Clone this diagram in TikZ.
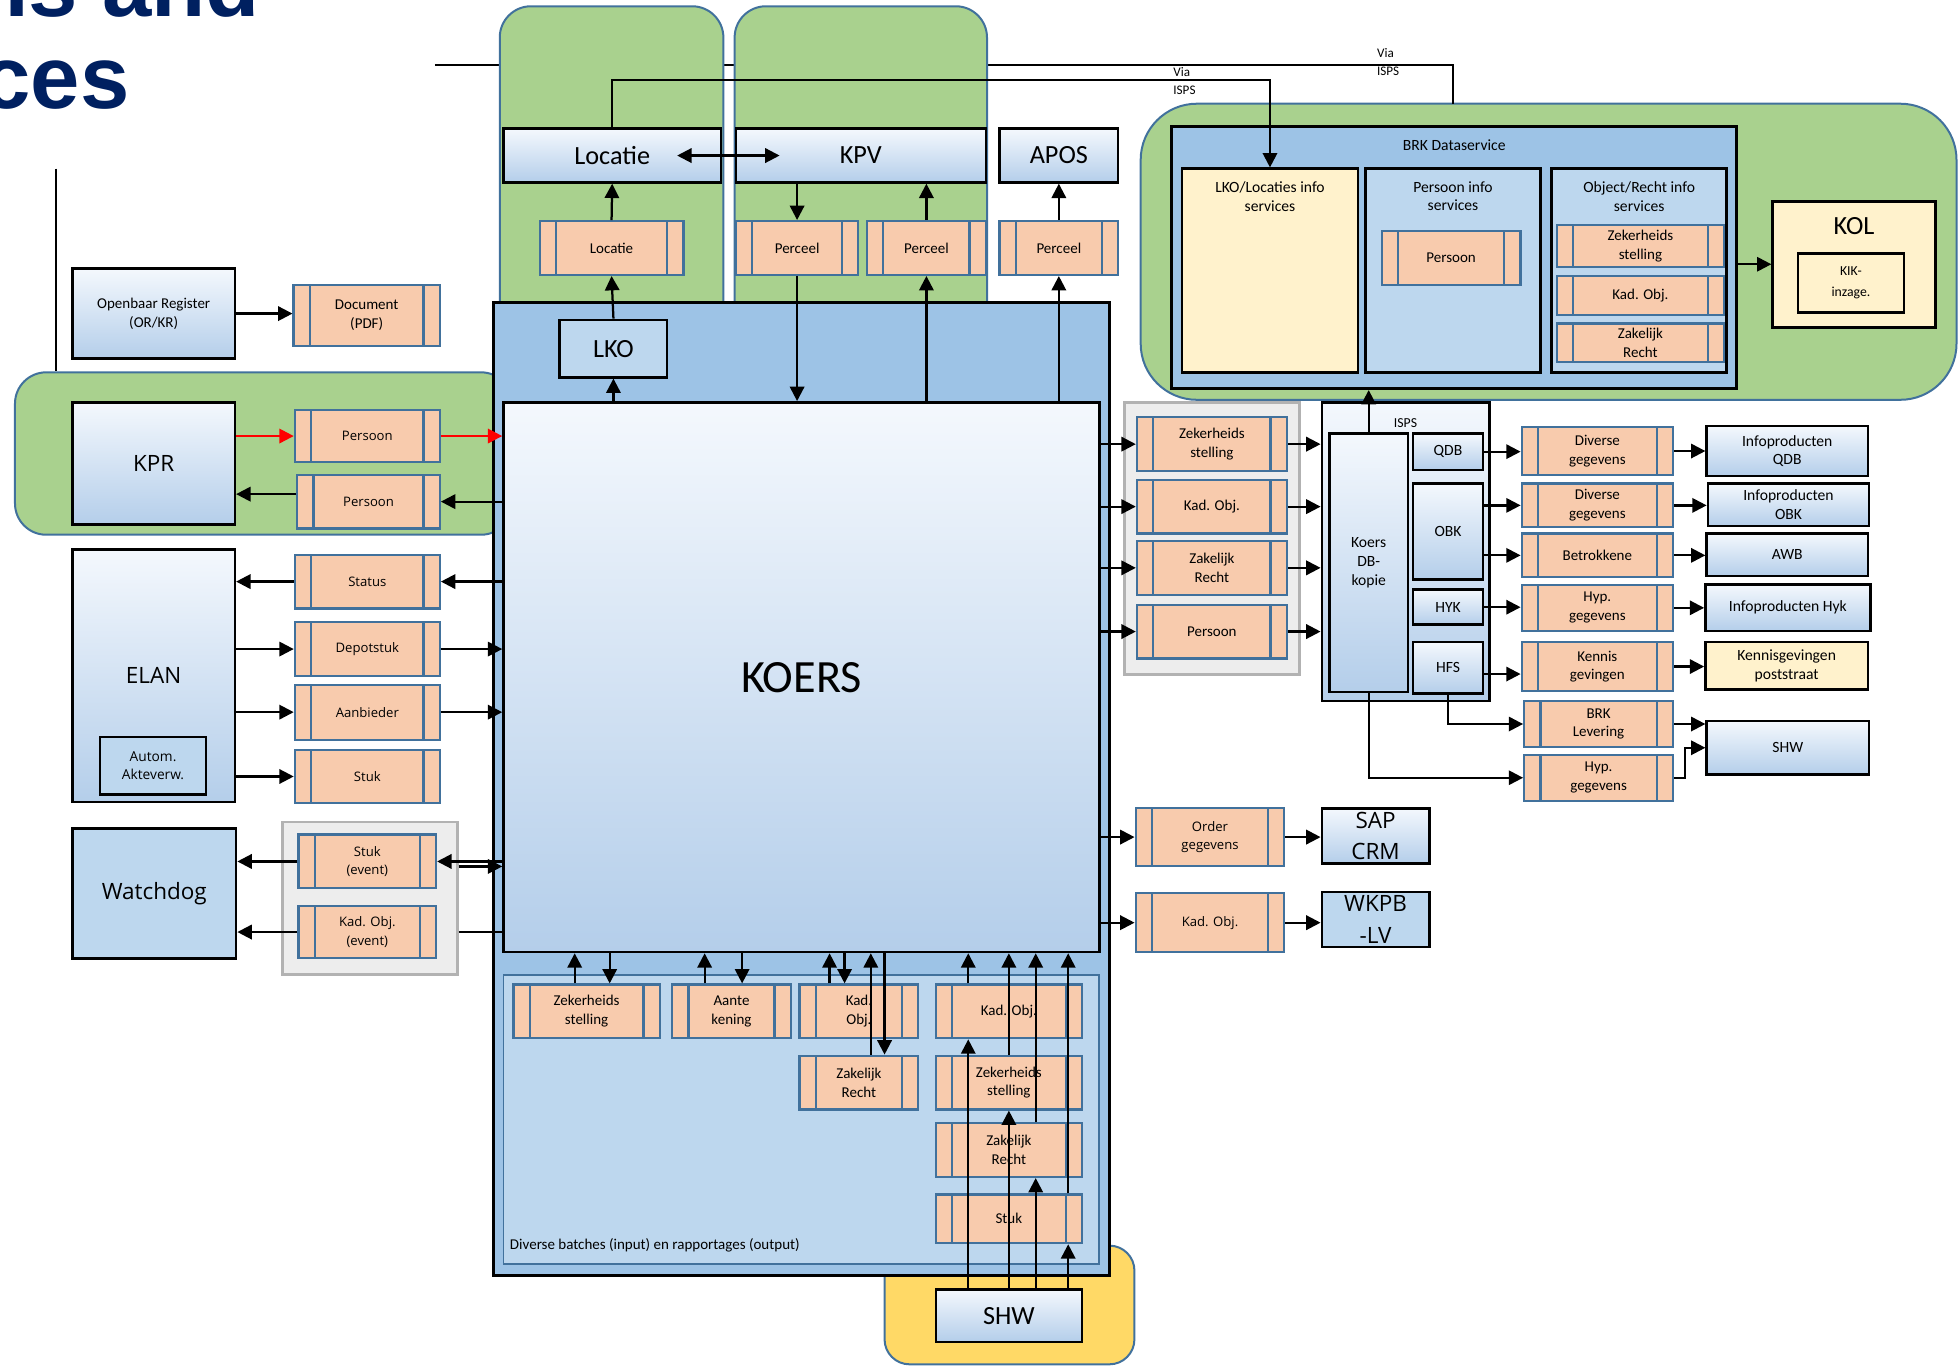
\documentclass[tikz,border=0pt]{standalone}
\usepackage{fontspec}
\setmainfont{Carlito}
\newfontfamily\segfont{Open Sans}
\newfontfamily\headfont{Liberation Sans}
\usetikzlibrary{arrows.meta, positioning}
\definecolor{grpgreen}{HTML}{A9D18E}
\definecolor{edgeblue}{HTML}{41719C}
\definecolor{procpink}{HTML}{F8CBAD}
\definecolor{koersblue}{HTML}{9DC3E6}
\definecolor{paleblue}{HTML}{BDD7EE}
\definecolor{gradtop}{HTML}{F4F8FD}
\definecolor{gradbot}{HTML}{B4CEEA}
\definecolor{cream}{HTML}{FFF2CC}
\definecolor{sunyellow}{HTML}{FFD966}
\definecolor{grpgray}{HTML}{EDEDED}
\definecolor{grayedge}{HTML}{B2B2B2}
\definecolor{titlenavy}{HTML}{002060}

\begin{document}
\begin{tikzpicture}[
    x=1pt, y=-1pt,
    wh/.style 2 args={minimum width=#1pt, minimum height=#2pt},
    grp/.style={draw=edgeblue, line width=1.6pt, fill=grpgreen, rounded corners=25pt, inner sep=0pt},
    grayframe/.style={draw=grayedge, line width=2pt, fill=grpgray, inner sep=0pt},
    sysbox/.style={draw=black, line width=2pt, top color=gradtop, bottom color=gradbot,
                   inner sep=0pt, align=center},
    flatbox/.style={draw=black, line width=2pt, fill=#1, inner sep=0pt, align=center},
    flatbox/.default=paleblue,
    proc/.style={draw=edgeblue, line width=1.8pt, fill=procpink, inner sep=0pt, align=center,
                 font=\fontsize{12}{15}\selectfont,
                 path picture={\draw[edgeblue, line width=1.8pt]
                   ([xshift=13pt]path picture bounding box.north west) -- ([xshift=13pt]path picture bounding box.south west)
                   ([xshift=-13pt]path picture bounding box.north east) -- ([xshift=-13pt]path picture bounding box.south east);}},
    lproc/.style={proc, font=\segfont\fontsize{10.5}{15}\selectfont},
    big/.style={font=\fontsize{21}{25}\selectfont},
    lbig/.style={font=\segfont\fontsize{18}{25}\selectfont},
    small/.style={font=\fontsize{12.5}{15}\selectfont},
    note/.style={font=\fontsize{10.5}{14}\selectfont, inner sep=0pt, align=left},
    titletxt/.style={font=\headfont\bfseries\fontsize{71}{74}\selectfont, text=titlenavy,
                     inner sep=0pt, anchor=base west},
    arr/.style={-{Triangle[length=11.5pt,width=11.5pt]}, line width=1.8pt},
    dblarr/.style={{Triangle[length=11.5pt,width=11.5pt]}-{Triangle[length=11.5pt,width=11.5pt]}, line width=1.8pt},
    wire/.style={line width=1.8pt}
]
    \useasboundingbox (0,0) rectangle (1568,1096);

    % slide remnants
    \node[titletxt] (title1) at (-21,13) {ns and};
    \node[titletxt] (title2) at (-15,87) {ces};

    % groups
    \node[grp, rounded corners=45pt, wh={653}{237}] (brkgrp) at (1239.5,201.5) {};
    \coordinate (viatop) at (348,52);
    \coordinate (viaend) at (1163,83);
    \draw[wire] (viatop) -| (viaend);
    \node[note, anchor=west] (via1) at (1102,49.5) {Via\\ISPS};
    \node[grp, wh={179}{295}] (locgrp) at (489.5,152.5) {};
    \node[grp, wh={202}{295}] (kpvgrp) at (689,152.5) {};
    \node[grp, wh={398}{130}] (kprgrp) at (211,363) {};
    \coordinate (ruletop) at (45,135);
    \draw[wire] (ruletop) -- (ruletop |- kprgrp.north);
    \node[grp, rounded corners=20pt, fill=sunyellow, wh={200}{95}] (shwgrp) at (808,1044.5) {};
    \node[grayframe, wh={140}{122}] (lgray) at (296,719) {};
    \node[grayframe, wh={140}{218}] (rgray) at (970,431) {};

    % KOERS
    \node[flatbox=koersblue, line width=2.2pt, wh={493}{779}] (koersbg) at (641.5,631.5) {};
    \node[flatbox, wh={86}{46}, big] (lko) at (491,279) {LKO};
    \node[sysbox, wh={477}{440}, font=\fontsize{37}{40}\selectfont] (koers) at (641.5,542) {KOERS};
    \node[draw=edgeblue, line width=1.6pt, fill=paleblue, wh={477}{232}] (batch) at (641.5,896) {};
    \node[anchor=west, inner sep=0pt, font=\fontsize{12}{14}\selectfont] (batchlbl) at (408,997)
        {Diverse batches (input) en rapportages (output)};

    % top row
    \node[sysbox, wh={174}{43}, big] (locH) at (490,124.5) {Locatie};
    \node[sysbox, wh={200}{43}, big] (kpv) at (689,124.5) {KPV};
    \node[sysbox, wh={95}{43}, big] (apos) at (847.5,124.5) {APOS};
    \node[proc, wh={115}{43}] (locP) at (489.5,198.5) {Locatie};
    \node[proc, wh={98}{43}] (perc1) at (638,198.5) {Perceel};
    \node[proc, wh={95}{43}] (perc2) at (741.5,198.5) {Perceel};
    \node[proc, wh={95}{43}] (perc3) at (847.5,198.5) {Perceel};

    % left side
    \node[sysbox, wh={130}{72}, font=\fontsize{12}{15}\selectfont] (openreg) at (123,251) {Openbaar Register\\(OR/KR)};
    \node[proc, wh={117}{49}] (doc) at (293.5,252.5) {Document\\(PDF)};
    \node[sysbox, wh={130}{98}, lbig] (kpr) at (123,371) {KPR};
    \node[lproc, wh={116}{42}] (persA) at (294,349) {Persoon};
    \node[lproc, wh={114}{43}] (persB) at (295,401.5) {Persoon};
    \node[sysbox, wh={130}{202}, lbig] (elan) at (123,541) {ELAN};
    \node[flatbox, wh={85}{46}, font=\segfont\fontsize{11}{14}\selectfont] (autom) at (122.5,613) {Autom.\\Akteverw.};
    \node[lproc, wh={116}{43}] (status) at (294,465.5) {Status};
    \node[lproc, wh={116}{43}] (depot) at (294,519.5) {Depotstuk};
    \node[lproc, wh={116}{44}] (aanb) at (294,570) {Aanbieder};
    \node[lproc, wh={116}{43}] (stuk) at (294,621.5) {Stuk};
    \node[flatbox, wh={131}{104}, lbig] (watch) at (123.5,715) {Watchdog};
    \node[lproc, wh={110}{43}] (stukev) at (294,689.5) {Stuk\\(event)};
    \node[lproc, wh={110}{42}] (kadev) at (294,746) {Kad. Obj.\\(event)};

    % batches
    \node[proc, wh={117}{43}] (bZek) at (469.5,809.5) {Zekerheids\\stelling};
    \node[proc, wh={95}{43}] (bAan) at (585.5,809.5) {Aante\\kening};
    \node[proc, wh={95}{43}] (bKad) at (687.5,809.5) {Kad.\\Obj.};
    \node[proc, wh={95}{43}] (bZak) at (687.5,866.5) {Zakelijk\\Recht};
    \node[proc, wh={117}{43}] (rKad) at (807.5,809.5) {Kad. Obj.};
    \node[proc, wh={117}{43}] (rZek) at (807.5,866.5) {Zekerheids\\stelling};
    \node[proc, wh={117}{43}] (rZak) at (807.5,920.5) {Zakelijk\\Recht};
    \node[proc, wh={117}{39}] (rStuk) at (807.5,975.5) {Stuk};
    \node[sysbox, wh={117}{42}, big] (shw) at (807.5,1053) {SHW};

    % right of KOERS
    \node[proc, wh={120}{43}] (gZek) at (970,355.5) {Zekerheids\\stelling};
    \node[proc, wh={120}{43}] (gKad) at (970,405.5) {Kad. Obj.};
    \node[proc, wh={120}{43}] (gZak) at (970,454.5) {Zakelijk\\Recht};
    \node[proc, wh={120}{43}] (gPers) at (970,505.5) {Persoon};
    \node[sysbox, wh={134}{239}] (dbouter) at (1125,441.5) {};
    \node[note, font=\fontsize{11}{13}\selectfont] (ispslbl) at (1125,339) {ISPS};
    \node[sysbox, wh={63}{207}, small] (dbkopie) at (1095.5,450.5) {Koers\\DB-\\kopie};
    \node[sysbox, wh={56}{29}, small] (qdb) at (1159,361.5) {QDB};
    \node[sysbox, wh={56}{77}, small] (obk) at (1159,425.5) {OBK};
    \node[sysbox, wh={56}{28}, small] (hyk) at (1159,486) {HYK};
    \node[sysbox, wh={56}{41}, small] (hfs) at (1159,534.5) {HFS};

    \node[proc, wh={121}{38}] (dg1) at (1278.5,361) {Diverse\\gegevens};
    \node[proc, wh={121}{35}] (dg2) at (1278.5,404.5) {Diverse\\gegevens};
    \node[proc, wh={121}{35}] (betr) at (1278.5,444.5) {Betrokkene};
    \node[proc, wh={121}{37}] (hyp1) at (1278.5,486.5) {Hyp.\\gegevens};
    \node[proc, wh={121}{39}] (kennis) at (1278.5,533.5) {Kennis\\gevingen};
    \node[proc, wh={119}{37}] (brklev) at (1279.5,579.5) {BRK\\Levering};
    \node[proc, wh={119}{37}] (hyp2) at (1279.5,622.5) {Hyp.\\gegevens};

    \node[sysbox, wh={129}{40}, small] (iqdb) at (1430.5,361) {Infoproducten\\QDB};
    \node[sysbox, wh={129}{34}, small] (iobk) at (1431.5,404) {Infoproducten\\OBK};
    \node[sysbox, wh={129}{34}, small] (awb) at (1430.5,444) {AWB};
    \node[sysbox, wh={132}{37}, small] (ihyk) at (1431,486.5) {Infoproducten Hyk};
    \node[flatbox=cream, wh={130}{38}, small] (kpost) at (1430,533) {Kennisgevingen\\poststraat};
    \node[sysbox, wh={130}{43}, small] (shwR) at (1431,598.5) {SHW};

    \node[lproc, wh={119}{46}] (order) at (968.5,670) {Order\\gegevens};
    \node[lproc, wh={119}{47}] (kadR) at (968.5,738.5) {Kad. Obj.};
    \node[sysbox, wh={86}{44}] (sap) at (1101,669) {};
    \node[lbig, inner sep=0pt, align=center] (saptxt) at (sap.center) {SAP\\CRM};
    \node[flatbox, wh={86}{44}] (wkpb) at (1101,736) {};
    \node[lbig, inner sep=0pt, align=center] (wkpbtxt) at (wkpb.center) {WKPB\\-LV};

    % BRK Dataservice
    \node[flatbox=koersblue, line width=2.4pt, wh={452}{210}] (brkds) at (1164,206) {};
    \node[small, inner sep=0pt, below=12pt of brkds.north] (brktitle) {BRK Dataservice};
    \node[flatbox=cream, wh={141}{163}] (lkoinfo) at (1016.5,216.5) {};
    \node[small, inner sep=0pt, align=center, below=11pt of lkoinfo.north] (lkoinfotxt) {LKO/Locaties info\\services};
    \node[flatbox, wh={140}{163}] (persinfo) at (1163,216.5) {};
    \node[small, inner sep=0pt, align=center, below=11pt of persinfo.north] (persinfotxt) {Persoon info\\services};
    \node[flatbox, wh={140}{163}] (objinfo) at (1312,216.5) {};
    \node[small, inner sep=0pt, align=center, below=11pt of objinfo.north] (objinfotxt) {Object/Recht info\\services};
    \node[proc, wh={111}{43}] (pPers) at (1161.5,206.5) {Persoon};
    \node[proc, wh={134}{34}] (oZek) at (1313,197) {Zekerheids\\stelling};
    \node[proc, wh={134}{31}] (oKad) at (1313,236.5) {Kad. Obj.};
    \node[proc, wh={134}{31}] (oZak) at (1313,274.5) {Zakelijk\\Recht};
    \node[flatbox=cream, line width=2.4pt, wh={130}{101}] (kol) at (1484,211.5) {};
    \node[big, inner sep=0pt, below=14pt of kol.north] (koltxt) {KOL};
    \node[flatbox=cream, wh={85}{47}, font=\fontsize{11}{17}\selectfont] (kik) at (1481.5,226.5) {KIK-\\inzage.};

    % arrows top
    \draw[arr] (locP.north) -- (locH.south);
    \draw[arr] (lko.north) -- (locP.south);
    \draw[arr] (koers.north -| lko.north) -- (lko.south);
    \draw[arr] (kpv.south -| perc1.north) -- (perc1.north);
    \draw[arr] (perc2.north) -- (perc2.north |- kpv.south);
    \draw[arr] (perc3.north) -- (apos.south);
    \draw[arr] (perc1.south) -- (perc1.south |- koers.north);
    \draw[arr] (koers.north -| perc2.south) -- (perc2.south);
    \draw[arr] (koers.north -| perc3.south) -- (perc3.south);
    \draw[dblarr] ([xshift=-36pt]locH.east) -- ([xshift=36pt]kpv.west);

    % arrows left
    \draw[arr] (openreg.east) -- (openreg.east -| doc.west);
    \draw[arr, red] (persA.west -| kpr.east) -- (persA.west);
    \draw[arr, red] (persA.east) -- (persA.east -| koers.west);
    \draw[arr] (persB.east -| koers.west) -- (persB.east);
    \coordinate (kprback) at ([yshift=6pt]persB.west);
    \draw[arr] (kprback) -- (kprback -| kpr.east);
    \draw[arr] (status.east -| koers.west) -- (status.east);
    \draw[arr] (status.west) -- (status.west -| elan.east);
    \draw[arr] (depot.west -| elan.east) -- (depot.west);
    \draw[arr] (depot.east) -- (depot.east -| koers.west);
    \draw[arr] (aanb.west -| elan.east) -- (aanb.west);
    \draw[arr] (aanb.east) -- (aanb.east -| koers.west);
    \draw[arr] (stuk.west -| elan.east) -- (stuk.west);
    \draw[arr] (stukev.east -| koers.west) -- (stukev.east);
    \coordinate (evback) at ([yshift=-4pt]stukev.east);
    \draw[arr] (evback -| lgray.east) -- (evback -| koers.west);
    \draw[arr] (stukev.west) -- (stukev.west -| watch.east);
    \draw[wire] (kadev.east -| lgray.east) -- (kadev.east -| koers.west);
    \draw[arr] (kadev.west) -- (kadev.west -| watch.east);

    % arrows right
    \draw[arr] (gZek.west -| koers.east) -- (gZek.west);
    \draw[arr] (gKad.west -| koers.east) -- (gKad.west);
    \draw[arr] (gZak.west -| koers.east) -- (gZak.west);
    \draw[arr] (gPers.west -| koers.east) -- (gPers.west);
    \draw[arr] (gZek.east) -- (gZek.east -| dbouter.west);
    \draw[arr] (gKad.east) -- (gKad.east -| dbouter.west);
    \draw[arr] (gZak.east) -- (gZak.east -| dbouter.west);
    \draw[arr] (gPers.east) -- (gPers.east -| dbouter.west);
    \draw[arr] (dbkopie.north) -- (dbkopie.north |- brkds.south);
    \draw[arr] (qdb.east) -- (qdb.east -| dg1.west);
    \draw[arr] (obk.east |- dg2.west) -- (dg2.west);
    \draw[arr] (obk.east |- betr.west) -- (betr.west);
    \draw[arr] (hyk.east) -- (hyk.east -| hyp1.west);
    \coordinate (hfsout) at ([yshift=-5pt]hfs.east);
    \draw[arr] (hfsout) -- (hfsout -| kennis.west);
    \draw[arr] (hfs.south) |- (brklev.west);
    \draw[arr] (dbkopie.south) |- (hyp2.west);
    \draw[arr] (dg1.east) -- (dg1.east -| iqdb.west);
    \draw[arr] (dg2.east) -- (dg2.east -| iobk.west);
    \draw[arr] (betr.east) -- (betr.east -| awb.west);
    \draw[arr] (hyp1.east) -- (hyp1.east -| ihyk.west);
    \draw[arr] (kennis.east) -- (kennis.east -| kpost.west);
    \draw[arr] (brklev.east) -- (brklev.east -| shwR.west);
    \draw[arr] (hyp2.east) -- ++(9,0) |- (shwR.west);
    \draw[arr] (order.west -| koers.east) -- (order.west);
    \draw[arr] (order.east) -- (order.east -| sap.west);
    \draw[arr] (kadR.west -| koers.east) -- (kadR.west);
    \draw[arr] (kadR.east) -- (kadR.east -| wkpb.west);
    \draw[arr] (brkds.east |- kol.west) -- (kol.west);

    % arrows bottom
    \draw[arr] ([xshift=-9.5pt]bZek.north) -- ([xshift=-9.5pt]bZek.north |- koers.south);
    \draw[arr] ([xshift=18.5pt]bZek.north |- koers.south) -- ([xshift=18.5pt]bZek.north);
    \draw[arr] ([xshift=-21.5pt]bAan.north) -- ([xshift=-21.5pt]bAan.north |- koers.south);
    \draw[arr] ([xshift=8.5pt]bAan.north |- koers.south) -- ([xshift=8.5pt]bAan.north);
    \draw[arr] ([xshift=-23.5pt]bKad.north) -- ([xshift=-23.5pt]bKad.north |- koers.south);
    \draw[arr] ([xshift=-11.5pt]bKad.north |- koers.south) -- ([xshift=-11.5pt]bKad.north);
    \draw[arr] ([xshift=9.5pt]bZak.north) -- ([xshift=9.5pt]bZak.north |- koers.south);
    \draw[arr] ([xshift=20.5pt]bZak.north |- koers.south) -- ([xshift=20.5pt]bZak.north);
    \draw[arr] ([xshift=-32.5pt]shw.north) -- ([xshift=-32.5pt]rKad.south);
    \draw[arr] ([xshift=-32.5pt]rKad.north) -- ([xshift=-32.5pt]rKad.north |- koers.south);
    \draw[arr] (shw.north) -- (rZek.south);
    \draw[arr] (rZek.north) -- (rZek.north |- koers.south);
    \draw[arr] ([xshift=21.5pt]shw.north) -- ([xshift=21.5pt]rZak.south);
    \draw[arr] ([xshift=21.5pt]rZak.north) -- ([xshift=21.5pt]rZak.north |- koers.south);
    \draw[arr] ([xshift=47.5pt]shw.north) -- ([xshift=47.5pt]rStuk.south);
    \draw[arr] ([xshift=47.5pt]rStuk.north) -- ([xshift=47.5pt]rStuk.north |- koers.south);

    % Locatie to BRK, via ISPS
    \draw[arr] (locH.north) -- ++(0,-38) -| (lkoinfo.north);
    \node[note, anchor=west] (via2) at (939,65) {Via\\ISPS};
\end{tikzpicture}
\end{document}
